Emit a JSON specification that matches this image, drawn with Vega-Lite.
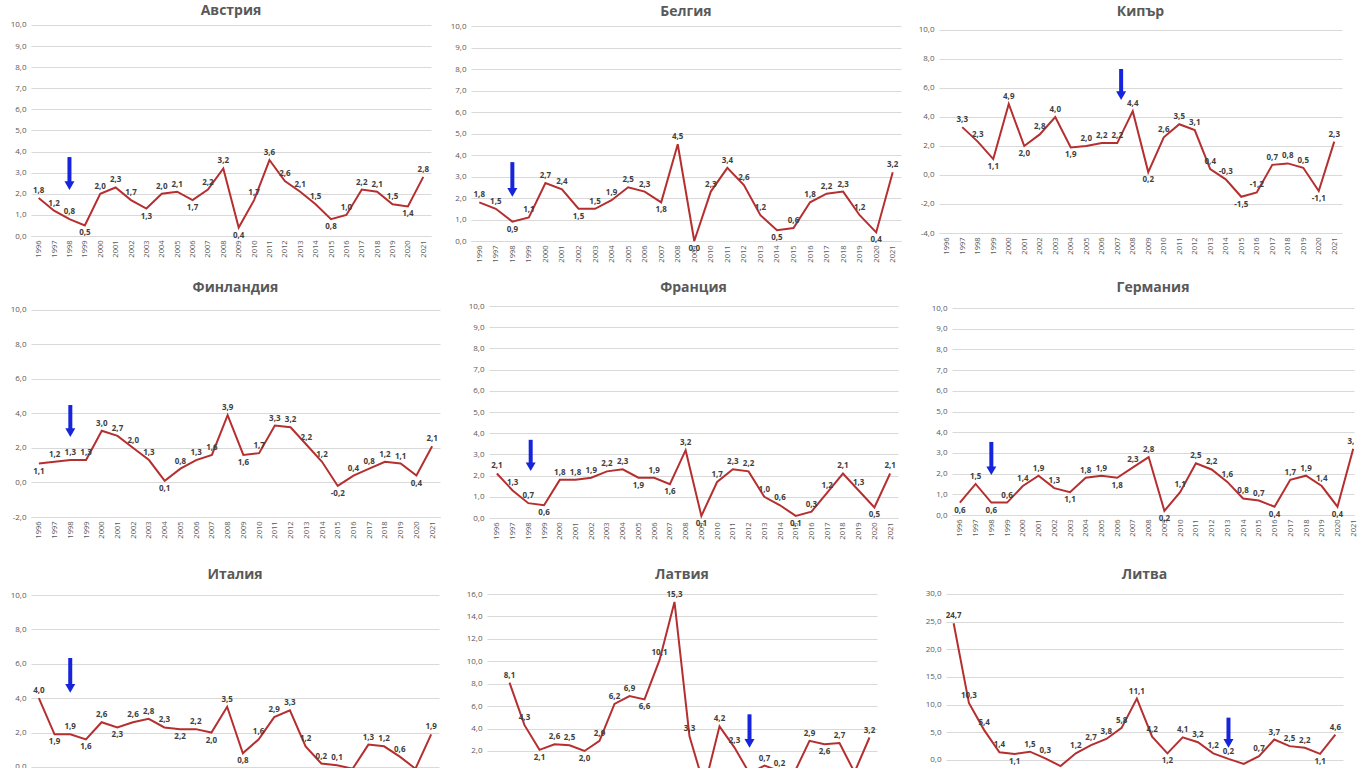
{
  "$schema": "https://vega.github.io/schema/vega-lite/v6.json",
  "padding": {"top": 3, "left": 0, "right": 0, "bottom": 0},
  "background": "white",
  "datasets": {
    "cpi": [
      {"country": "Австрия", "year": 1996, "value": 1.8}, {"country": "Австрия", "year": 1997, "value": 1.2}, {"country": "Австрия", "year": 1998, "value": 0.8}, {"country": "Австрия", "year": 1999, "value": 0.5}, {"country": "Австрия", "year": 2000, "value": 2.0}, {"country": "Австрия", "year": 2001, "value": 2.3}, {"country": "Австрия", "year": 2002, "value": 1.7}, {"country": "Австрия", "year": 2003, "value": 1.3}, {"country": "Австрия", "year": 2004, "value": 2.0}, {"country": "Австрия", "year": 2005, "value": 2.1}, {"country": "Австрия", "year": 2006, "value": 1.7}, {"country": "Австрия", "year": 2007, "value": 2.2}, {"country": "Австрия", "year": 2008, "value": 3.2}, {"country": "Австрия", "year": 2009, "value": 0.4}, {"country": "Австрия", "year": 2010, "value": 1.7}, {"country": "Австрия", "year": 2011, "value": 3.6}, {"country": "Австрия", "year": 2012, "value": 2.6}, {"country": "Австрия", "year": 2013, "value": 2.1}, {"country": "Австрия", "year": 2014, "value": 1.5}, {"country": "Австрия", "year": 2015, "value": 0.8}, {"country": "Австрия", "year": 2016, "value": 1.0}, {"country": "Австрия", "year": 2017, "value": 2.2}, {"country": "Австрия", "year": 2018, "value": 2.1}, {"country": "Австрия", "year": 2019, "value": 1.5}, {"country": "Австрия", "year": 2020, "value": 1.4}, {"country": "Австрия", "year": 2021, "value": 2.8},
      {"country": "Белгия", "year": 1996, "value": 1.8}, {"country": "Белгия", "year": 1997, "value": 1.5}, {"country": "Белгия", "year": 1998, "value": 0.9}, {"country": "Белгия", "year": 1999, "value": 1.1}, {"country": "Белгия", "year": 2000, "value": 2.7}, {"country": "Белгия", "year": 2001, "value": 2.4}, {"country": "Белгия", "year": 2002, "value": 1.5}, {"country": "Белгия", "year": 2003, "value": 1.5}, {"country": "Белгия", "year": 2004, "value": 1.9}, {"country": "Белгия", "year": 2005, "value": 2.5}, {"country": "Белгия", "year": 2006, "value": 2.3}, {"country": "Белгия", "year": 2007, "value": 1.8}, {"country": "Белгия", "year": 2008, "value": 4.5}, {"country": "Белгия", "year": 2009, "value": 0.0}, {"country": "Белгия", "year": 2010, "value": 2.3}, {"country": "Белгия", "year": 2011, "value": 3.4}, {"country": "Белгия", "year": 2012, "value": 2.6}, {"country": "Белгия", "year": 2013, "value": 1.2}, {"country": "Белгия", "year": 2014, "value": 0.5}, {"country": "Белгия", "year": 2015, "value": 0.6}, {"country": "Белгия", "year": 2016, "value": 1.8}, {"country": "Белгия", "year": 2017, "value": 2.2}, {"country": "Белгия", "year": 2018, "value": 2.3}, {"country": "Белгия", "year": 2019, "value": 1.2}, {"country": "Белгия", "year": 2020, "value": 0.4}, {"country": "Белгия", "year": 2021, "value": 3.2},
      {"country": "Кипър", "year": 1997, "value": 3.3}, {"country": "Кипър", "year": 1998, "value": 2.3}, {"country": "Кипър", "year": 1999, "value": 1.1}, {"country": "Кипър", "year": 2000, "value": 4.9}, {"country": "Кипър", "year": 2001, "value": 2.0}, {"country": "Кипър", "year": 2002, "value": 2.8}, {"country": "Кипър", "year": 2003, "value": 4.0}, {"country": "Кипър", "year": 2004, "value": 1.9}, {"country": "Кипър", "year": 2005, "value": 2.0}, {"country": "Кипър", "year": 2006, "value": 2.2}, {"country": "Кипър", "year": 2007, "value": 2.2}, {"country": "Кипър", "year": 2008, "value": 4.4}, {"country": "Кипър", "year": 2009, "value": 0.2}, {"country": "Кипър", "year": 2010, "value": 2.6}, {"country": "Кипър", "year": 2011, "value": 3.5}, {"country": "Кипър", "year": 2012, "value": 3.1}, {"country": "Кипър", "year": 2013, "value": 0.4}, {"country": "Кипър", "year": 2014, "value": -0.3}, {"country": "Кипър", "year": 2015, "value": -1.5}, {"country": "Кипър", "year": 2016, "value": -1.2}, {"country": "Кипър", "year": 2017, "value": 0.7}, {"country": "Кипър", "year": 2018, "value": 0.8}, {"country": "Кипър", "year": 2019, "value": 0.5}, {"country": "Кипър", "year": 2020, "value": -1.1}, {"country": "Кипър", "year": 2021, "value": 2.3},
      {"country": "Финландия", "year": 1996, "value": 1.1}, {"country": "Финландия", "year": 1997, "value": 1.2}, {"country": "Финландия", "year": 1998, "value": 1.3}, {"country": "Финландия", "year": 1999, "value": 1.3}, {"country": "Финландия", "year": 2000, "value": 3.0}, {"country": "Финландия", "year": 2001, "value": 2.7}, {"country": "Финландия", "year": 2002, "value": 2.0}, {"country": "Финландия", "year": 2003, "value": 1.3}, {"country": "Финландия", "year": 2004, "value": 0.1}, {"country": "Финландия", "year": 2005, "value": 0.8}, {"country": "Финландия", "year": 2006, "value": 1.3}, {"country": "Финландия", "year": 2007, "value": 1.6}, {"country": "Финландия", "year": 2008, "value": 3.9}, {"country": "Финландия", "year": 2009, "value": 1.6}, {"country": "Финландия", "year": 2010, "value": 1.7}, {"country": "Финландия", "year": 2011, "value": 3.3}, {"country": "Финландия", "year": 2012, "value": 3.2}, {"country": "Финландия", "year": 2013, "value": 2.2}, {"country": "Финландия", "year": 2014, "value": 1.2}, {"country": "Финландия", "year": 2015, "value": -0.2}, {"country": "Финландия", "year": 2016, "value": 0.4}, {"country": "Финландия", "year": 2017, "value": 0.8}, {"country": "Финландия", "year": 2018, "value": 1.2}, {"country": "Финландия", "year": 2019, "value": 1.1}, {"country": "Финландия", "year": 2020, "value": 0.4}, {"country": "Финландия", "year": 2021, "value": 2.1},
      {"country": "Франция", "year": 1996, "value": 2.1}, {"country": "Франция", "year": 1997, "value": 1.3}, {"country": "Франция", "year": 1998, "value": 0.7}, {"country": "Франция", "year": 1999, "value": 0.6}, {"country": "Франция", "year": 2000, "value": 1.8}, {"country": "Франция", "year": 2001, "value": 1.8}, {"country": "Франция", "year": 2002, "value": 1.9}, {"country": "Франция", "year": 2003, "value": 2.2}, {"country": "Франция", "year": 2004, "value": 2.3}, {"country": "Франция", "year": 2005, "value": 1.9}, {"country": "Франция", "year": 2006, "value": 1.9}, {"country": "Франция", "year": 2007, "value": 1.6}, {"country": "Франция", "year": 2008, "value": 3.2}, {"country": "Франция", "year": 2009, "value": 0.1}, {"country": "Франция", "year": 2010, "value": 1.7}, {"country": "Франция", "year": 2011, "value": 2.3}, {"country": "Франция", "year": 2012, "value": 2.2}, {"country": "Франция", "year": 2013, "value": 1.0}, {"country": "Франция", "year": 2014, "value": 0.6}, {"country": "Франция", "year": 2015, "value": 0.1}, {"country": "Франция", "year": 2016, "value": 0.3}, {"country": "Франция", "year": 2017, "value": 1.2}, {"country": "Франция", "year": 2018, "value": 2.1}, {"country": "Франция", "year": 2019, "value": 1.3}, {"country": "Франция", "year": 2020, "value": 0.5}, {"country": "Франция", "year": 2021, "value": 2.1},
      {"country": "Германия", "year": 1996, "value": 0.6}, {"country": "Германия", "year": 1997, "value": 1.5}, {"country": "Германия", "year": 1998, "value": 0.6}, {"country": "Германия", "year": 1999, "value": 0.6}, {"country": "Германия", "year": 2000, "value": 1.4}, {"country": "Германия", "year": 2001, "value": 1.9}, {"country": "Германия", "year": 2002, "value": 1.3}, {"country": "Германия", "year": 2003, "value": 1.1}, {"country": "Германия", "year": 2004, "value": 1.8}, {"country": "Германия", "year": 2005, "value": 1.9}, {"country": "Германия", "year": 2006, "value": 1.8}, {"country": "Германия", "year": 2007, "value": 2.3}, {"country": "Германия", "year": 2008, "value": 2.8}, {"country": "Германия", "year": 2009, "value": 0.2}, {"country": "Германия", "year": 2010, "value": 1.1}, {"country": "Германия", "year": 2011, "value": 2.5}, {"country": "Германия", "year": 2012, "value": 2.2}, {"country": "Германия", "year": 2013, "value": 1.6}, {"country": "Германия", "year": 2014, "value": 0.8}, {"country": "Германия", "year": 2015, "value": 0.7}, {"country": "Германия", "year": 2016, "value": 0.4}, {"country": "Германия", "year": 2017, "value": 1.7}, {"country": "Германия", "year": 2018, "value": 1.9}, {"country": "Германия", "year": 2019, "value": 1.4}, {"country": "Германия", "year": 2020, "value": 0.4}, {"country": "Германия", "year": 2021, "value": 3.2},
      {"country": "Италия", "year": 1996, "value": 4.0}, {"country": "Италия", "year": 1997, "value": 1.9}, {"country": "Италия", "year": 1998, "value": 1.9}, {"country": "Италия", "year": 1999, "value": 1.6}, {"country": "Италия", "year": 2000, "value": 2.6}, {"country": "Италия", "year": 2001, "value": 2.3}, {"country": "Италия", "year": 2002, "value": 2.6}, {"country": "Италия", "year": 2003, "value": 2.8}, {"country": "Италия", "year": 2004, "value": 2.3}, {"country": "Италия", "year": 2005, "value": 2.2}, {"country": "Италия", "year": 2006, "value": 2.2}, {"country": "Италия", "year": 2007, "value": 2.0}, {"country": "Италия", "year": 2008, "value": 3.5}, {"country": "Италия", "year": 2009, "value": 0.8}, {"country": "Италия", "year": 2010, "value": 1.6}, {"country": "Италия", "year": 2011, "value": 2.9}, {"country": "Италия", "year": 2012, "value": 3.3}, {"country": "Италия", "year": 2013, "value": 1.2}, {"country": "Италия", "year": 2014, "value": 0.2}, {"country": "Италия", "year": 2015, "value": 0.1}, {"country": "Италия", "year": 2016, "value": -0.1}, {"country": "Италия", "year": 2017, "value": 1.3}, {"country": "Италия", "year": 2018, "value": 1.2}, {"country": "Италия", "year": 2019, "value": 0.6}, {"country": "Италия", "year": 2020, "value": -0.1}, {"country": "Италия", "year": 2021, "value": 1.9},
      {"country": "Латвия", "year": 1997, "value": 8.1}, {"country": "Латвия", "year": 1998, "value": 4.3}, {"country": "Латвия", "year": 1999, "value": 2.1}, {"country": "Латвия", "year": 2000, "value": 2.6}, {"country": "Латвия", "year": 2001, "value": 2.5}, {"country": "Латвия", "year": 2002, "value": 2.0}, {"country": "Латвия", "year": 2003, "value": 2.9}, {"country": "Латвия", "year": 2004, "value": 6.2}, {"country": "Латвия", "year": 2005, "value": 6.9}, {"country": "Латвия", "year": 2006, "value": 6.6}, {"country": "Латвия", "year": 2007, "value": 10.1}, {"country": "Латвия", "year": 2008, "value": 15.3}, {"country": "Латвия", "year": 2009, "value": 3.3}, {"country": "Латвия", "year": 2010, "value": -1.2}, {"country": "Латвия", "year": 2011, "value": 4.2}, {"country": "Латвия", "year": 2012, "value": 2.3}, {"country": "Латвия", "year": 2013, "value": 0.0}, {"country": "Латвия", "year": 2014, "value": 0.7}, {"country": "Латвия", "year": 2015, "value": 0.2}, {"country": "Латвия", "year": 2016, "value": 0.1}, {"country": "Латвия", "year": 2017, "value": 2.9}, {"country": "Латвия", "year": 2018, "value": 2.6}, {"country": "Латвия", "year": 2019, "value": 2.7}, {"country": "Латвия", "year": 2020, "value": 0.1}, {"country": "Латвия", "year": 2021, "value": 3.2},
      {"country": "Литва", "year": 1996, "value": 24.7}, {"country": "Литва", "year": 1997, "value": 10.3}, {"country": "Литва", "year": 1998, "value": 5.4}, {"country": "Литва", "year": 1999, "value": 1.4}, {"country": "Литва", "year": 2000, "value": 1.1}, {"country": "Литва", "year": 2001, "value": 1.5}, {"country": "Литва", "year": 2002, "value": 0.3}, {"country": "Литва", "year": 2003, "value": -1.1}, {"country": "Литва", "year": 2004, "value": 1.2}, {"country": "Литва", "year": 2005, "value": 2.7}, {"country": "Литва", "year": 2006, "value": 3.8}, {"country": "Литва", "year": 2007, "value": 5.8}, {"country": "Литва", "year": 2008, "value": 11.1}, {"country": "Литва", "year": 2009, "value": 4.2}, {"country": "Литва", "year": 2010, "value": 1.2}, {"country": "Литва", "year": 2011, "value": 4.1}, {"country": "Литва", "year": 2012, "value": 3.2}, {"country": "Литва", "year": 2013, "value": 1.2}, {"country": "Литва", "year": 2014, "value": 0.2}, {"country": "Литва", "year": 2015, "value": -0.7}, {"country": "Литва", "year": 2016, "value": 0.7}, {"country": "Литва", "year": 2017, "value": 3.7}, {"country": "Литва", "year": 2018, "value": 2.5}, {"country": "Литва", "year": 2019, "value": 2.2}, {"country": "Литва", "year": 2020, "value": 1.1}, {"country": "Литва", "year": 2021, "value": 4.6}
    ],
    "arrows": [
      {"country": "Австрия", "year": 1998, "top": 3.74, "head": 2.39},
      {"country": "Белгия", "year": 1998, "top": 3.67, "head": 2.26},
      {"country": "Кипър", "year": 2007.25, "top": 7.31, "head": 5.47},
      {"country": "Финландия", "year": 1998, "top": 4.49, "head": 2.89},
      {"country": "Франция", "year": 1998.15, "top": 3.69, "head": 2.42},
      {"country": "Германия", "year": 1998, "top": 3.53, "head": 2.14},
      {"country": "Италия", "year": 1998, "top": 6.34, "head": 4.57},
      {"country": "Латвия", "year": 2013, "top": 5.27, "head": 2.68},
      {"country": "Литва", "year": 2014, "top": 7.65, "head": 3.0}
    ]
  },
  "vconcat": [
    {
      "hconcat": [
        {
          "width": 400, "height": 214,
          "title": {"text": "Австрия", "offset": 3},
          "encoding": {"x": {"field": "year", "type": "quantitative", "title": null, "scale": {"domain": [1995.5, 2021.5], "nice": false, "zero": false}, "axis": {"values": [1996,1997,1998,1999,2000,2001,2002,2003,2004,2005,2006,2007,2008,2009,2010,2011,2012,2013,2014,2015,2016,2017,2018,2019,2020,2021], "minExtent": 26, "maxExtent": 26}}},
          "layer": [
            {"data": {"name": "cpi"}, "transform": [{"filter": "datum.country === 'Австрия'"}], "mark": {"type": "line", "color": "#b52f30", "strokeWidth": 2},
             "encoding": {"y": {"field": "value", "type": "quantitative", "title": null, "scale": {"domain": [0, 10.14], "nice": false, "zero": false}, "axis": {"values": [0,1,2,3,4,5,6,7,8,9,10], "minExtent": 31, "maxExtent": 31}}}},
            {"data": {"name": "cpi"}, "transform": [{"filter": "datum.country === 'Австрия'"}, {"window": [{"op": "lag", "field": "value", "as": "prev"}, {"op": "lead", "field": "value", "as": "next"}], "sort": [{"field": "year"}]}, {"filter": "!((datum.prev == null || datum.value < datum.prev) && (datum.next == null || datum.value <= datum.next))"}],
             "mark": {"type": "text", "dy": -7, "fontSize": 8, "fontWeight": "bold", "color": "#404040"},
             "encoding": {"y": {"field": "value", "type": "quantitative", "title": null, "axis": {"values": [0,1,2,3,4,5,6,7,8,9,10], "minExtent": 31, "maxExtent": 31}}, "text": {"field": "value", "type": "quantitative", "format": ".1f"}}},
            {"data": {"name": "cpi"}, "transform": [{"filter": "datum.country === 'Австрия'"}, {"window": [{"op": "lag", "field": "value", "as": "prev"}, {"op": "lead", "field": "value", "as": "next"}], "sort": [{"field": "year"}]}, {"filter": "(datum.prev == null || datum.value < datum.prev) && (datum.next == null || datum.value <= datum.next)"}],
             "mark": {"type": "text", "dy": 8, "fontSize": 8, "fontWeight": "bold", "color": "#404040"},
             "encoding": {"y": {"field": "value", "type": "quantitative", "title": null, "axis": {"values": [0,1,2,3,4,5,6,7,8,9,10], "minExtent": 31, "maxExtent": 31}}, "text": {"field": "value", "type": "quantitative", "format": ".1f"}}},
            {"data": {"name": "arrows"}, "transform": [{"filter": "datum.country === 'Австрия'"}], "mark": {"type": "rule", "color": "#1624dc", "strokeWidth": 4},
             "encoding": {"y": {"field": "top", "type": "quantitative", "title": null, "axis": {"values": [0,1,2,3,4,5,6,7,8,9,10], "minExtent": 31, "maxExtent": 31}}, "y2": {"field": "head"}}},
            {"data": {"name": "arrows"}, "transform": [{"filter": "datum.country === 'Австрия'"}], "mark": {"type": "point", "shape": "triangle-down", "filled": true, "size": 100, "color": "#1624dc", "opacity": 1},
             "encoding": {"y": {"field": "head", "type": "quantitative", "title": null, "axis": {"values": [0,1,2,3,4,5,6,7,8,9,10], "minExtent": 31, "maxExtent": 31}}}}
          ]
        },
        {
          "width": 430, "height": 219,
          "title": {"text": "Белгия", "offset": 3},
          "encoding": {"x": {"field": "year", "type": "quantitative", "title": null, "scale": {"domain": [1995.5, 2021.5], "nice": false, "zero": false}, "axis": {"values": [1996,1997,1998,1999,2000,2001,2002,2003,2004,2005,2006,2007,2008,2009,2010,2011,2012,2013,2014,2015,2016,2017,2018,2019,2020,2021], "minExtent": 26, "maxExtent": 26}}},
          "layer": [
            {"data": {"name": "cpi"}, "transform": [{"filter": "datum.country === 'Белгия'"}], "mark": {"type": "line", "color": "#b52f30", "strokeWidth": 2},
             "encoding": {"y": {"field": "value", "type": "quantitative", "title": null, "scale": {"domain": [0, 10.19], "nice": false, "zero": false}, "axis": {"values": [0,1,2,3,4,5,6,7,8,9,10], "minExtent": 40, "maxExtent": 40}}}},
            {"data": {"name": "cpi"}, "transform": [{"filter": "datum.country === 'Белгия'"}, {"window": [{"op": "lag", "field": "value", "as": "prev"}, {"op": "lead", "field": "value", "as": "next"}], "sort": [{"field": "year"}]}, {"filter": "!((datum.prev == null || datum.value < datum.prev) && (datum.next == null || datum.value <= datum.next))"}],
             "mark": {"type": "text", "dy": -7, "fontSize": 8, "fontWeight": "bold", "color": "#404040"},
             "encoding": {"y": {"field": "value", "type": "quantitative", "title": null, "axis": {"values": [0,1,2,3,4,5,6,7,8,9,10], "minExtent": 40, "maxExtent": 40}}, "text": {"field": "value", "type": "quantitative", "format": ".1f"}}},
            {"data": {"name": "cpi"}, "transform": [{"filter": "datum.country === 'Белгия'"}, {"window": [{"op": "lag", "field": "value", "as": "prev"}, {"op": "lead", "field": "value", "as": "next"}], "sort": [{"field": "year"}]}, {"filter": "(datum.prev == null || datum.value < datum.prev) && (datum.next == null || datum.value <= datum.next)"}],
             "mark": {"type": "text", "dy": 8, "fontSize": 8, "fontWeight": "bold", "color": "#404040"},
             "encoding": {"y": {"field": "value", "type": "quantitative", "title": null, "axis": {"values": [0,1,2,3,4,5,6,7,8,9,10], "minExtent": 40, "maxExtent": 40}}, "text": {"field": "value", "type": "quantitative", "format": ".1f"}}},
            {"data": {"name": "arrows"}, "transform": [{"filter": "datum.country === 'Белгия'"}], "mark": {"type": "rule", "color": "#1624dc", "strokeWidth": 4},
             "encoding": {"y": {"field": "top", "type": "quantitative", "title": null, "axis": {"values": [0,1,2,3,4,5,6,7,8,9,10], "minExtent": 40, "maxExtent": 40}}, "y2": {"field": "head"}}},
            {"data": {"name": "arrows"}, "transform": [{"filter": "datum.country === 'Белгия'"}], "mark": {"type": "point", "shape": "triangle-down", "filled": true, "size": 100, "color": "#1624dc", "opacity": 1},
             "encoding": {"y": {"field": "head", "type": "quantitative", "title": null, "axis": {"values": [0,1,2,3,4,5,6,7,8,9,10], "minExtent": 40, "maxExtent": 40}}}}
          ]
        },
        {
          "width": 403, "height": 211,
          "title": {"text": "Кипър", "offset": 3},
          "encoding": {"x": {"field": "year", "type": "quantitative", "title": null, "scale": {"domain": [1995.5, 2021.5], "nice": false, "zero": false}, "axis": {"values": [1996,1997,1998,1999,2000,2001,2002,2003,2004,2005,2006,2007,2008,2009,2010,2011,2012,2013,2014,2015,2016,2017,2018,2019,2020,2021], "minExtent": 26, "maxExtent": 26}}},
          "layer": [
            {"data": {"name": "cpi"}, "transform": [{"filter": "datum.country === 'Кипър'"}], "mark": {"type": "line", "color": "#b52f30", "strokeWidth": 2},
             "encoding": {"y": {"field": "value", "type": "quantitative", "title": null, "scale": {"domain": [-4, 10.55], "nice": false, "zero": false}, "axis": {"values": [-4,-2,0,2,4,6,8,10], "minExtent": 38, "maxExtent": 38}}}},
            {"data": {"name": "cpi"}, "transform": [{"filter": "datum.country === 'Кипър'"}, {"window": [{"op": "lag", "field": "value", "as": "prev"}, {"op": "lead", "field": "value", "as": "next"}], "sort": [{"field": "year"}]}, {"filter": "!((datum.prev == null || datum.value < datum.prev) && (datum.next == null || datum.value <= datum.next))"}],
             "mark": {"type": "text", "dy": -7, "fontSize": 8, "fontWeight": "bold", "color": "#404040"},
             "encoding": {"y": {"field": "value", "type": "quantitative", "title": null, "axis": {"values": [-4,-2,0,2,4,6,8,10], "minExtent": 38, "maxExtent": 38}}, "text": {"field": "value", "type": "quantitative", "format": ".1f"}}},
            {"data": {"name": "cpi"}, "transform": [{"filter": "datum.country === 'Кипър'"}, {"window": [{"op": "lag", "field": "value", "as": "prev"}, {"op": "lead", "field": "value", "as": "next"}], "sort": [{"field": "year"}]}, {"filter": "(datum.prev == null || datum.value < datum.prev) && (datum.next == null || datum.value <= datum.next)"}],
             "mark": {"type": "text", "dy": 8, "fontSize": 8, "fontWeight": "bold", "color": "#404040"},
             "encoding": {"y": {"field": "value", "type": "quantitative", "title": null, "axis": {"values": [-4,-2,0,2,4,6,8,10], "minExtent": 38, "maxExtent": 38}}, "text": {"field": "value", "type": "quantitative", "format": ".1f"}}},
            {"data": {"name": "arrows"}, "transform": [{"filter": "datum.country === 'Кипър'"}], "mark": {"type": "rule", "color": "#1624dc", "strokeWidth": 4},
             "encoding": {"y": {"field": "top", "type": "quantitative", "title": null, "axis": {"values": [-4,-2,0,2,4,6,8,10], "minExtent": 38, "maxExtent": 38}}, "y2": {"field": "head"}}},
            {"data": {"name": "arrows"}, "transform": [{"filter": "datum.country === 'Кипър'"}], "mark": {"type": "point", "shape": "triangle-down", "filled": true, "size": 100, "color": "#1624dc", "opacity": 1},
             "encoding": {"y": {"field": "head", "type": "quantitative", "title": null, "axis": {"values": [-4,-2,0,2,4,6,8,10], "minExtent": 38, "maxExtent": 38}}}}
          ]
        }
      ]
    },
    {
      "hconcat": [
        {
          "width": 409, "height": 216,
          "title": {"text": "Финландия", "offset": 6},
          "encoding": {"x": {"field": "year", "type": "quantitative", "title": null, "scale": {"domain": [1995.5, 2021.5], "nice": false, "zero": false}, "axis": {"values": [1996,1997,1998,1999,2000,2001,2002,2003,2004,2005,2006,2007,2008,2009,2010,2011,2012,2013,2014,2015,2016,2017,2018,2019,2020,2021], "minExtent": 36, "maxExtent": 36}}},
          "layer": [
            {"data": {"name": "cpi"}, "transform": [{"filter": "datum.country === 'Финландия'"}], "mark": {"type": "line", "color": "#b52f30", "strokeWidth": 2},
             "encoding": {"y": {"field": "value", "type": "quantitative", "title": null, "scale": {"domain": [-2, 10.52], "nice": false, "zero": false}, "axis": {"values": [-2,0,2,4,6,8,10], "minExtent": 25, "maxExtent": 25}}}},
            {"data": {"name": "cpi"}, "transform": [{"filter": "datum.country === 'Финландия'"}, {"window": [{"op": "lag", "field": "value", "as": "prev"}, {"op": "lead", "field": "value", "as": "next"}], "sort": [{"field": "year"}]}, {"filter": "!((datum.prev == null || datum.value < datum.prev) && (datum.next == null || datum.value <= datum.next))"}],
             "mark": {"type": "text", "dy": -7, "fontSize": 8, "fontWeight": "bold", "color": "#404040"},
             "encoding": {"y": {"field": "value", "type": "quantitative", "title": null, "axis": {"values": [-2,0,2,4,6,8,10], "minExtent": 25, "maxExtent": 25}}, "text": {"field": "value", "type": "quantitative", "format": ".1f"}}},
            {"data": {"name": "cpi"}, "transform": [{"filter": "datum.country === 'Финландия'"}, {"window": [{"op": "lag", "field": "value", "as": "prev"}, {"op": "lead", "field": "value", "as": "next"}], "sort": [{"field": "year"}]}, {"filter": "(datum.prev == null || datum.value < datum.prev) && (datum.next == null || datum.value <= datum.next)"}],
             "mark": {"type": "text", "dy": 8, "fontSize": 8, "fontWeight": "bold", "color": "#404040"},
             "encoding": {"y": {"field": "value", "type": "quantitative", "title": null, "axis": {"values": [-2,0,2,4,6,8,10], "minExtent": 25, "maxExtent": 25}}, "text": {"field": "value", "type": "quantitative", "format": ".1f"}}},
            {"data": {"name": "arrows"}, "transform": [{"filter": "datum.country === 'Финландия'"}], "mark": {"type": "rule", "color": "#1624dc", "strokeWidth": 4},
             "encoding": {"y": {"field": "top", "type": "quantitative", "title": null, "axis": {"values": [-2,0,2,4,6,8,10], "minExtent": 25, "maxExtent": 25}}, "y2": {"field": "head"}}},
            {"data": {"name": "arrows"}, "transform": [{"filter": "datum.country === 'Финландия'"}], "mark": {"type": "point", "shape": "triangle-down", "filled": true, "size": 100, "color": "#1624dc", "opacity": 1},
             "encoding": {"y": {"field": "head", "type": "quantitative", "title": null, "axis": {"values": [-2,0,2,4,6,8,10], "minExtent": 25, "maxExtent": 25}}}}
          ]
        },
        {
          "width": 409, "height": 217,
          "title": {"text": "Франция", "offset": 6},
          "encoding": {"x": {"field": "year", "type": "quantitative", "title": null, "scale": {"domain": [1995.5, 2021.5], "nice": false, "zero": false}, "axis": {"values": [1996,1997,1998,1999,2000,2001,2002,2003,2004,2005,2006,2007,2008,2009,2010,2011,2012,2013,2014,2015,2016,2017,2018,2019,2020,2021], "minExtent": 36, "maxExtent": 36}}},
          "layer": [
            {"data": {"name": "cpi"}, "transform": [{"filter": "datum.country === 'Франция'"}], "mark": {"type": "line", "color": "#b52f30", "strokeWidth": 2},
             "encoding": {"y": {"field": "value", "type": "quantitative", "title": null, "scale": {"domain": [0, 10.24], "nice": false, "zero": false}, "axis": {"values": [0,1,2,3,4,5,6,7,8,9,10], "minExtent": 49, "maxExtent": 49}}}},
            {"data": {"name": "cpi"}, "transform": [{"filter": "datum.country === 'Франция'"}, {"window": [{"op": "lag", "field": "value", "as": "prev"}, {"op": "lead", "field": "value", "as": "next"}], "sort": [{"field": "year"}]}, {"filter": "!((datum.prev == null || datum.value < datum.prev) && (datum.next == null || datum.value <= datum.next))"}],
             "mark": {"type": "text", "dy": -7, "fontSize": 8, "fontWeight": "bold", "color": "#404040"},
             "encoding": {"y": {"field": "value", "type": "quantitative", "title": null, "axis": {"values": [0,1,2,3,4,5,6,7,8,9,10], "minExtent": 49, "maxExtent": 49}}, "text": {"field": "value", "type": "quantitative", "format": ".1f"}}},
            {"data": {"name": "cpi"}, "transform": [{"filter": "datum.country === 'Франция'"}, {"window": [{"op": "lag", "field": "value", "as": "prev"}, {"op": "lead", "field": "value", "as": "next"}], "sort": [{"field": "year"}]}, {"filter": "(datum.prev == null || datum.value < datum.prev) && (datum.next == null || datum.value <= datum.next)"}],
             "mark": {"type": "text", "dy": 8, "fontSize": 8, "fontWeight": "bold", "color": "#404040"},
             "encoding": {"y": {"field": "value", "type": "quantitative", "title": null, "axis": {"values": [0,1,2,3,4,5,6,7,8,9,10], "minExtent": 49, "maxExtent": 49}}, "text": {"field": "value", "type": "quantitative", "format": ".1f"}}},
            {"data": {"name": "arrows"}, "transform": [{"filter": "datum.country === 'Франция'"}], "mark": {"type": "rule", "color": "#1624dc", "strokeWidth": 4},
             "encoding": {"y": {"field": "top", "type": "quantitative", "title": null, "axis": {"values": [0,1,2,3,4,5,6,7,8,9,10], "minExtent": 49, "maxExtent": 49}}, "y2": {"field": "head"}}},
            {"data": {"name": "arrows"}, "transform": [{"filter": "datum.country === 'Франция'"}], "mark": {"type": "point", "shape": "triangle-down", "filled": true, "size": 100, "color": "#1624dc", "opacity": 1},
             "encoding": {"y": {"field": "head", "type": "quantitative", "title": null, "axis": {"values": [0,1,2,3,4,5,6,7,8,9,10], "minExtent": 49, "maxExtent": 49}}}}
          ]
        },
        {
          "width": 402, "height": 214,
          "title": {"text": "Германия", "offset": 6},
          "encoding": {"x": {"field": "year", "type": "quantitative", "title": null, "scale": {"domain": [1995.5, 2021.05], "nice": false, "zero": false}, "axis": {"values": [1996,1997,1998,1999,2000,2001,2002,2003,2004,2005,2006,2007,2008,2009,2010,2011,2012,2013,2014,2015,2016,2017,2018,2019,2020,2021], "minExtent": 36, "maxExtent": 36}}},
          "layer": [
            {"data": {"name": "cpi"}, "transform": [{"filter": "datum.country === 'Германия'"}], "mark": {"type": "line", "color": "#b52f30", "strokeWidth": 2, "clip": true},
             "encoding": {"y": {"field": "value", "type": "quantitative", "title": null, "scale": {"domain": [0, 10.34], "nice": false, "zero": false}, "axis": {"values": [0,1,2,3,4,5,6,7,8,9,10], "minExtent": 54, "maxExtent": 54}}}},
            {"data": {"name": "cpi"}, "transform": [{"filter": "datum.country === 'Германия'"}, {"window": [{"op": "lag", "field": "value", "as": "prev"}, {"op": "lead", "field": "value", "as": "next"}], "sort": [{"field": "year"}]}, {"filter": "!((datum.prev == null || datum.value < datum.prev) && (datum.next == null || datum.value <= datum.next))"}],
             "mark": {"type": "text", "dy": -7, "fontSize": 8, "fontWeight": "bold", "color": "#404040", "clip": true},
             "encoding": {"y": {"field": "value", "type": "quantitative", "title": null, "axis": {"values": [0,1,2,3,4,5,6,7,8,9,10], "minExtent": 54, "maxExtent": 54}}, "text": {"field": "value", "type": "quantitative", "format": ".1f"}}},
            {"data": {"name": "cpi"}, "transform": [{"filter": "datum.country === 'Германия'"}, {"window": [{"op": "lag", "field": "value", "as": "prev"}, {"op": "lead", "field": "value", "as": "next"}], "sort": [{"field": "year"}]}, {"filter": "(datum.prev == null || datum.value < datum.prev) && (datum.next == null || datum.value <= datum.next)"}],
             "mark": {"type": "text", "dy": 8, "fontSize": 8, "fontWeight": "bold", "color": "#404040"},
             "encoding": {"y": {"field": "value", "type": "quantitative", "title": null, "axis": {"values": [0,1,2,3,4,5,6,7,8,9,10], "minExtent": 54, "maxExtent": 54}}, "text": {"field": "value", "type": "quantitative", "format": ".1f"}}},
            {"data": {"name": "arrows"}, "transform": [{"filter": "datum.country === 'Германия'"}], "mark": {"type": "rule", "color": "#1624dc", "strokeWidth": 4},
             "encoding": {"y": {"field": "top", "type": "quantitative", "title": null, "axis": {"values": [0,1,2,3,4,5,6,7,8,9,10], "minExtent": 54, "maxExtent": 54}}, "y2": {"field": "head"}}},
            {"data": {"name": "arrows"}, "transform": [{"filter": "datum.country === 'Германия'"}], "mark": {"type": "point", "shape": "triangle-down", "filled": true, "size": 100, "color": "#1624dc", "opacity": 1},
             "encoding": {"y": {"field": "head", "type": "quantitative", "title": null, "axis": {"values": [0,1,2,3,4,5,6,7,8,9,10], "minExtent": 54, "maxExtent": 54}}}}
          ]
        }
      ]
    },
    {
      "hconcat": [
        {
          "width": 408, "height": 180,
          "title": {"text": "Италия", "offset": 6},
          "encoding": {"x": {"field": "year", "type": "quantitative", "title": null, "scale": {"domain": [1995.5, 2021.5], "nice": false, "zero": false}, "axis": null}},
          "layer": [
            {"data": {"name": "cpi"}, "transform": [{"filter": "datum.country === 'Италия'"}], "mark": {"type": "line", "color": "#b52f30", "strokeWidth": 2, "clip": true},
             "encoding": {"y": {"field": "value", "type": "quantitative", "title": null, "scale": {"domain": [-0.06, 10.41], "nice": false, "zero": false}, "axis": {"values": [0,2,4,6,8,10], "minExtent": 31, "maxExtent": 31}}}},
            {"data": {"name": "cpi"}, "transform": [{"filter": "datum.country === 'Италия'"}, {"window": [{"op": "lag", "field": "value", "as": "prev"}, {"op": "lead", "field": "value", "as": "next"}], "sort": [{"field": "year"}]}, {"filter": "!((datum.prev == null || datum.value < datum.prev) && (datum.next == null || datum.value <= datum.next))"}],
             "mark": {"type": "text", "dy": -7, "fontSize": 8, "fontWeight": "bold", "color": "#404040", "clip": true},
             "encoding": {"y": {"field": "value", "type": "quantitative", "title": null, "axis": {"values": [0,2,4,6,8,10], "minExtent": 31, "maxExtent": 31}}, "text": {"field": "value", "type": "quantitative", "format": ".1f"}}},
            {"data": {"name": "cpi"}, "transform": [{"filter": "datum.country === 'Италия'"}, {"window": [{"op": "lag", "field": "value", "as": "prev"}, {"op": "lead", "field": "value", "as": "next"}], "sort": [{"field": "year"}]}, {"filter": "(datum.prev == null || datum.value < datum.prev) && (datum.next == null || datum.value <= datum.next)"}],
             "mark": {"type": "text", "dy": 8, "fontSize": 8, "fontWeight": "bold", "color": "#404040", "clip": true},
             "encoding": {"y": {"field": "value", "type": "quantitative", "title": null, "axis": {"values": [0,2,4,6,8,10], "minExtent": 31, "maxExtent": 31}}, "text": {"field": "value", "type": "quantitative", "format": ".1f"}}},
            {"data": {"name": "arrows"}, "transform": [{"filter": "datum.country === 'Италия'"}], "mark": {"type": "rule", "color": "#1624dc", "strokeWidth": 4},
             "encoding": {"y": {"field": "top", "type": "quantitative", "title": null, "axis": {"values": [0,2,4,6,8,10], "minExtent": 31, "maxExtent": 31}}, "y2": {"field": "head"}}},
            {"data": {"name": "arrows"}, "transform": [{"filter": "datum.country === 'Италия'"}], "mark": {"type": "point", "shape": "triangle-down", "filled": true, "size": 100, "color": "#1624dc", "opacity": 1},
             "encoding": {"y": {"field": "head", "type": "quantitative", "title": null, "axis": {"values": [0,2,4,6,8,10], "minExtent": 31, "maxExtent": 31}}}}
          ]
        },
        {
          "width": 390, "height": 180,
          "title": {"text": "Латвия", "offset": 6},
          "encoding": {"x": {"field": "year", "type": "quantitative", "title": null, "scale": {"domain": [1995.5, 2021.5], "nice": false, "zero": false}, "axis": null}},
          "layer": [
            {"data": {"name": "cpi"}, "transform": [{"filter": "datum.country === 'Латвия'"}], "mark": {"type": "line", "color": "#b52f30", "strokeWidth": 2, "clip": true},
             "encoding": {"y": {"field": "value", "type": "quantitative", "title": null, "scale": {"domain": [0.48, 16.54], "nice": false, "zero": false}, "axis": {"values": [2,4,6,8,10,12,14,16], "minExtent": 48, "maxExtent": 48}}}},
            {"data": {"name": "cpi"}, "transform": [{"filter": "datum.country === 'Латвия'"}, {"window": [{"op": "lag", "field": "value", "as": "prev"}, {"op": "lead", "field": "value", "as": "next"}], "sort": [{"field": "year"}]}, {"filter": "!((datum.prev == null || datum.value < datum.prev) && (datum.next == null || datum.value <= datum.next))"}],
             "mark": {"type": "text", "dy": -7, "fontSize": 8, "fontWeight": "bold", "color": "#404040", "clip": true},
             "encoding": {"y": {"field": "value", "type": "quantitative", "title": null, "axis": {"values": [2,4,6,8,10,12,14,16], "minExtent": 48, "maxExtent": 48}}, "text": {"field": "value", "type": "quantitative", "format": ".1f"}}},
            {"data": {"name": "cpi"}, "transform": [{"filter": "datum.country === 'Латвия'"}, {"window": [{"op": "lag", "field": "value", "as": "prev"}, {"op": "lead", "field": "value", "as": "next"}], "sort": [{"field": "year"}]}, {"filter": "(datum.prev == null || datum.value < datum.prev) && (datum.next == null || datum.value <= datum.next)"}],
             "mark": {"type": "text", "dy": 8, "fontSize": 8, "fontWeight": "bold", "color": "#404040", "clip": true},
             "encoding": {"y": {"field": "value", "type": "quantitative", "title": null, "axis": {"values": [2,4,6,8,10,12,14,16], "minExtent": 48, "maxExtent": 48}}, "text": {"field": "value", "type": "quantitative", "format": ".1f"}}},
            {"data": {"name": "arrows"}, "transform": [{"filter": "datum.country === 'Латвия'"}], "mark": {"type": "rule", "color": "#1624dc", "strokeWidth": 4},
             "encoding": {"y": {"field": "top", "type": "quantitative", "title": null, "axis": {"values": [2,4,6,8,10,12,14,16], "minExtent": 48, "maxExtent": 48}}, "y2": {"field": "head"}}},
            {"data": {"name": "arrows"}, "transform": [{"filter": "datum.country === 'Латвия'"}], "mark": {"type": "point", "shape": "triangle-down", "filled": true, "size": 100, "color": "#1624dc", "opacity": 1},
             "encoding": {"y": {"field": "head", "type": "quantitative", "title": null, "axis": {"values": [2,4,6,8,10,12,14,16], "minExtent": 48, "maxExtent": 48}}}}
          ]
        },
        {
          "width": 397, "height": 180,
          "title": {"text": "Литва", "offset": 6},
          "encoding": {"x": {"field": "year", "type": "quantitative", "title": null, "scale": {"domain": [1995.5, 2021.5], "nice": false, "zero": false}, "axis": null}},
          "layer": [
            {"data": {"name": "cpi"}, "transform": [{"filter": "datum.country === 'Литва'"}], "mark": {"type": "line", "color": "#b52f30", "strokeWidth": 2, "clip": true},
             "encoding": {"y": {"field": "value", "type": "quantitative", "title": null, "scale": {"domain": [-1.45, 31.08], "nice": false, "zero": false}, "axis": {"values": [0,5,10,15,20,25,30], "minExtent": 69, "maxExtent": 69}}}},
            {"data": {"name": "cpi"}, "transform": [{"filter": "datum.country === 'Литва'"}, {"window": [{"op": "lag", "field": "value", "as": "prev"}, {"op": "lead", "field": "value", "as": "next"}], "sort": [{"field": "year"}]}, {"filter": "!((datum.prev == null || datum.value < datum.prev) && (datum.next == null || datum.value <= datum.next))"}],
             "mark": {"type": "text", "dy": -7, "fontSize": 8, "fontWeight": "bold", "color": "#404040", "clip": true},
             "encoding": {"y": {"field": "value", "type": "quantitative", "title": null, "axis": {"values": [0,5,10,15,20,25,30], "minExtent": 69, "maxExtent": 69}}, "text": {"field": "value", "type": "quantitative", "format": ".1f"}}},
            {"data": {"name": "cpi"}, "transform": [{"filter": "datum.country === 'Литва'"}, {"window": [{"op": "lag", "field": "value", "as": "prev"}, {"op": "lead", "field": "value", "as": "next"}], "sort": [{"field": "year"}]}, {"filter": "(datum.prev == null || datum.value < datum.prev) && (datum.next == null || datum.value <= datum.next)"}],
             "mark": {"type": "text", "dy": 8, "fontSize": 8, "fontWeight": "bold", "color": "#404040", "clip": true},
             "encoding": {"y": {"field": "value", "type": "quantitative", "title": null, "axis": {"values": [0,5,10,15,20,25,30], "minExtent": 69, "maxExtent": 69}}, "text": {"field": "value", "type": "quantitative", "format": ".1f"}}},
            {"data": {"name": "arrows"}, "transform": [{"filter": "datum.country === 'Литва'"}], "mark": {"type": "rule", "color": "#1624dc", "strokeWidth": 4},
             "encoding": {"y": {"field": "top", "type": "quantitative", "title": null, "axis": {"values": [0,5,10,15,20,25,30], "minExtent": 69, "maxExtent": 69}}, "y2": {"field": "head"}}},
            {"data": {"name": "arrows"}, "transform": [{"filter": "datum.country === 'Литва'"}], "mark": {"type": "point", "shape": "triangle-down", "filled": true, "size": 100, "color": "#1624dc", "opacity": 1},
             "encoding": {"y": {"field": "head", "type": "quantitative", "title": null, "axis": {"values": [0,5,10,15,20,25,30], "minExtent": 69, "maxExtent": 69}}}}
          ]
        }
      ]
    }
  ],
  "spacing": 14,
  "config": {
    "font": "Open Sans",
    "view": {"stroke": null},
    "concat": {"spacing": 0},
    "locale": {"number": {"decimal": ",", "thousands": " ", "grouping": [3], "currency": ["", ""], "minus": "-"}},
    "title": {"fontSize": 14, "fontWeight": "bold", "color": "#595959", "font": "Open Sans", "anchor": "middle"},
    "axisY": {"grid": true, "gridColor": "#d9d9d9", "gridWidth": 1, "domain": false, "ticks": false, "labelFontSize": 8, "labelColor": "#595959", "labelPadding": 5, "format": ".1f", "labelOverlap": false},
    "axisX": {"grid": false, "domain": true, "domainColor": "#d9d9d9", "ticks": false, "labelAngle": -90, "labelFontSize": 7.5, "labelColor": "#595959", "labelPadding": 4, "format": "d", "labelOverlap": false, "labelFlush": false}
  }
}
